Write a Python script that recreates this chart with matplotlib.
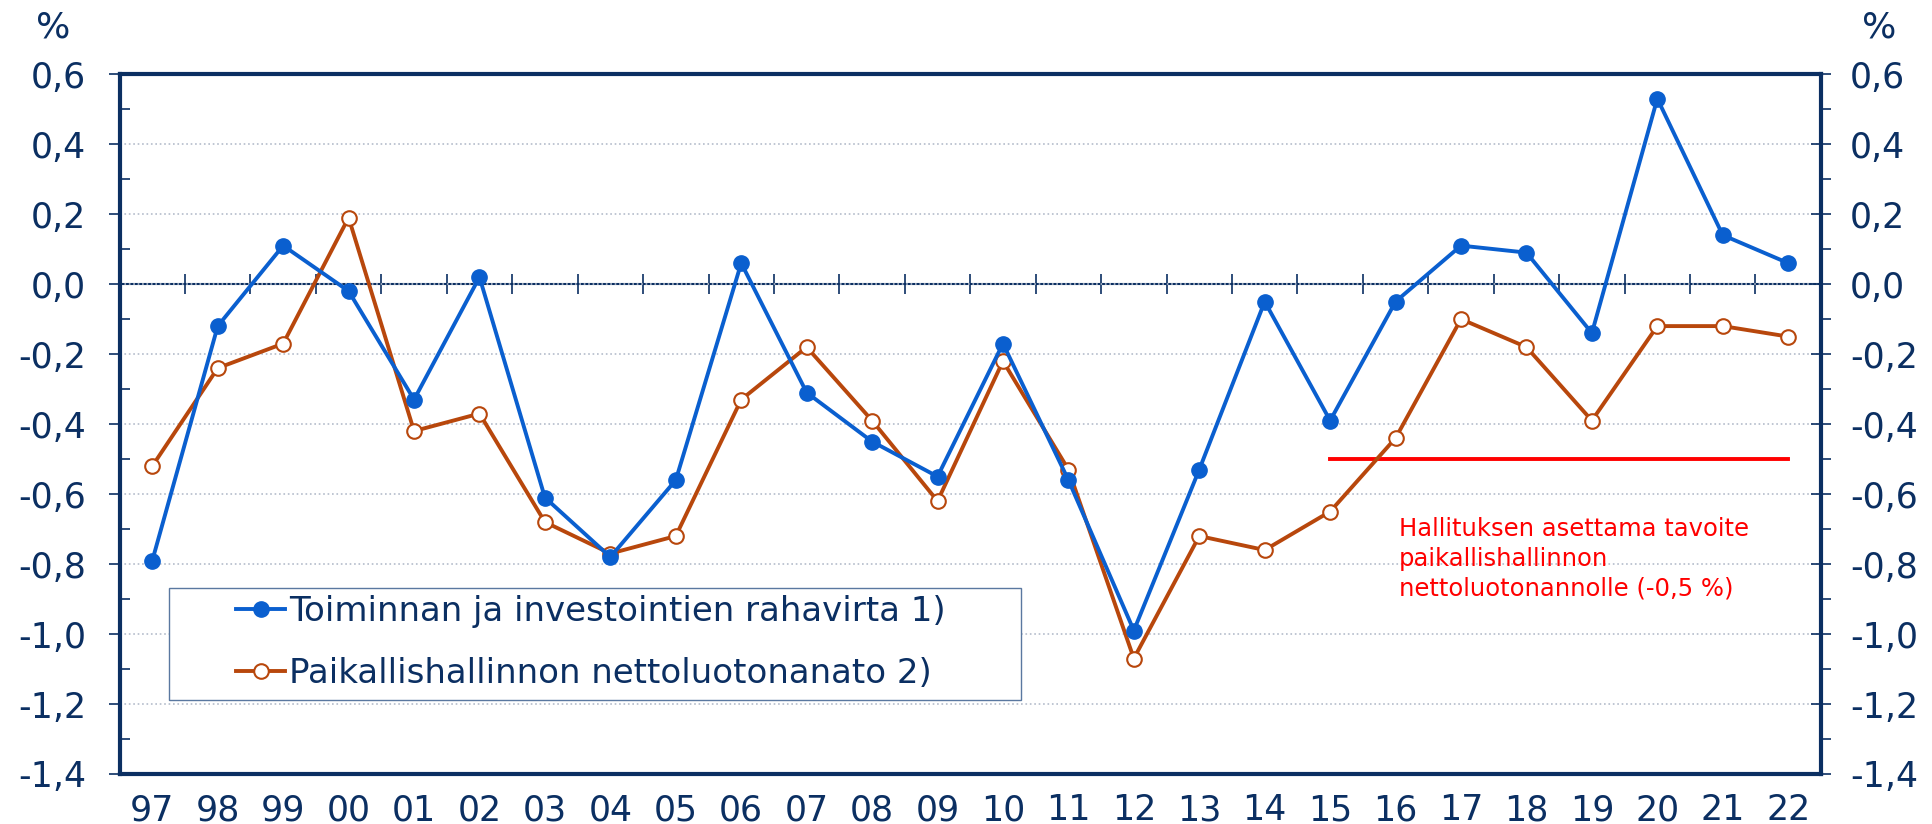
import matplotlib
matplotlib.use('Agg')
import matplotlib.pyplot as plt
from matplotlib.patches import Rectangle
import numpy as np

years = ['97', '98', '99', '00', '01', '02', '03', '04', '05', '06', '07', '08', '09',
         '10', '11', '12', '13', '14', '15', '16', '17', '18', '19', '20', '21', '22']
rahavirta = [-0.79, -0.12, 0.11, -0.02, -0.33, 0.02, -0.61, -0.78, -0.56, 0.06, -0.31, -0.45, -0.55,
             -0.17, -0.56, -0.99, -0.53, -0.05, -0.39, -0.05, 0.11, 0.09, -0.14, 0.53, 0.14, 0.06]
nettoluotonanto = [-0.52, -0.24, -0.17, 0.19, -0.42, -0.37, -0.68, -0.77, -0.72, -0.33, -0.18, -0.39, -0.62,
                   -0.22, -0.53, -1.07, -0.72, -0.76, -0.65, -0.44, -0.10, -0.18, -0.39, -0.12, -0.12, -0.15]
target_years = ['15', '22']
target_value = -0.5
yticks = [0.6, 0.4, 0.2, 0.0, -0.2, -0.4, -0.6, -0.8, -1.0, -1.2, -1.4]

navy = '#0b2f62'
blue = '#0a5fcf'
orange = '#b8470c'

fig = plt.figure(figsize=(19.32, 8.24), dpi=100)
ax = fig.add_axes([0.0619, 0.0607, 0.8806, 0.8493])
x = np.arange(len(years))
ylabels = [f'{v:.1f}'.replace('.', ',') for v in yticks]

ax.set_xlim(-0.5, len(years) - 0.5)
ax.set_ylim(-1.4, 0.6)
ax.set_yticks(yticks)
ax.set_yticks(np.arange(-1.3, 0.6, 0.2), minor=True)
ax.set_yticklabels(ylabels, fontsize=25, color=navy)
ax.set_xticks(x)
ax.set_xticklabels(years, fontsize=25, color=navy)
ax.tick_params(axis='x', length=0, pad=14)
ax.tick_params(axis='y', which='major', direction='out', length=8, width=1.2, color=navy, pad=16)
ax.tick_params(axis='y', which='minor', direction='in', length=7, width=1.2, color=navy)
ax.grid(True, axis='y', which='major', linestyle=':', color='#b4bccb', lw=1.2, zorder=0)
for s in ax.spines.values():
    s.set_color(navy)
    s.set_linewidth(3)

ax2 = ax.twinx()
ax2.set_ylim(ax.get_ylim())
ax2.set_yticks(yticks)
ax2.set_yticks(np.arange(-1.3, 0.6, 0.2), minor=True)
ax2.set_yticklabels(ylabels, fontsize=25, color=navy)
ax2.tick_params(axis='y', which='major', direction='inout', length=14, width=1.2, color=navy, pad=14)
ax2.tick_params(axis='y', which='minor', direction='out', length=7, width=1.2, color=navy)
for s in ax2.spines.values():
    s.set_visible(False)

# zero line with category separators
ax.axhline(0, color=navy, lw=1.5, zorder=1)
ax.vlines(x[:-1] + 0.5, -0.028, 0.028, color=navy, lw=1.2, zorder=1)

ax.plot(x, rahavirta, color=blue, lw=2.8, marker='o', markersize=11,
        markerfacecolor=blue, markeredgecolor=blue, zorder=4,
        label='Toiminnan ja investointien rahavirta 1)')
ax.plot(x, nettoluotonanto, color=orange, lw=2.8, marker='o', markersize=10.5,
        markerfacecolor='white', markeredgecolor=orange, markeredgewidth=1.5, zorder=3,
        label='Paikallishallinnon nettoluotonanato 2)')

tx = [years.index(y) for y in target_years]
ax.plot(tx, [target_value] * 2, color='#ff0000', lw=2.8, zorder=2)
ax.text(tx[0] + 1.05, -0.665, 'Hallituksen asettama tavoite\npaikallishallinnon\nnettoluotonannolle (-0,5 %)',
        color='#ff0000', fontsize=17.5, va='top', ha='left', linespacing=1.32)

# legend box
ax.add_patch(Rectangle((0.0291, 0.1057), 0.5007, 0.16, transform=ax.transAxes,
                       facecolor='white', edgecolor='#5a78a0', lw=1.0, zorder=5))
leg = ax.legend(loc='center left', bbox_to_anchor=(0.0685, 0.188), frameon=False,
                handlelength=1.45, handletextpad=0.1, borderpad=0, labelspacing=0.84,
                borderaxespad=0, prop={'size': 24.5})
leg.set_zorder(6)
for t in leg.get_texts():
    t.set_color(navy)

fig.text(0.0274, 0.967, '%', fontsize=26, color=navy, ha='center', va='center')
fig.text(0.9726, 0.967, '%', fontsize=26, color=navy, ha='center', va='center')

fig.savefig('out.png', dpi=100)
